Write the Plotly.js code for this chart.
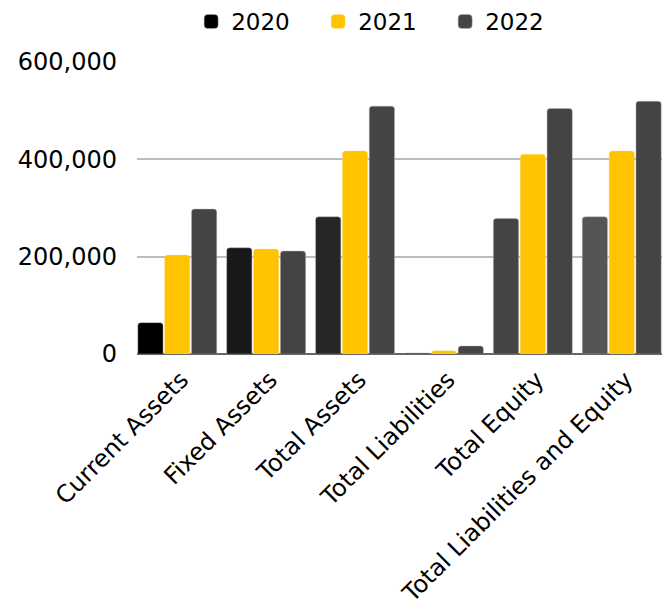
<!DOCTYPE html>
<html>
<head>
<script src="https://cdn.plot.ly/plotly-3.0.1.min.js"></script>
<style>html,body{margin:0;padding:0;background:#fff;}</style>
</head>
<body>
<div id="chart" style="width:670px;height:608px;"></div>
<script>
const categories = ["Current Assets", "Fixed Assets", "Total Assets", "Total Liabilities", "Total Equity", "Total Liabilities and Equity"];
const seriesNames = ["2020", "2021", "2022"];
const values2020 = [64300, 218200, 281900, 2000, 278600, 281900];
const values2021 = [203300, 215600, 417300, 6800, 410600, 417300];
const values2022 = [297700, 211500, 509100, 16400, 504400, 519400];
const colors2020 = ["#000000", "#181818", "#262626", "#333333", "#444444", "#555555"];
const color2021 = "#FFC300";
const color2022 = "#444444";
const yTicks = [0, 200000, 400000, 600000];
const yTickText = ["0", "200,000", "400,000", "600,000"];

const font = "'DejaVu Sans', sans-serif";
const common = {type: "bar", x: categories, hoverinfo: "skip"};
const traces = [
  Object.assign({}, common, {name: seriesNames[0], y: values2020, marker: {color: colors2020, cornerradius: 3, line: {color: "rgba(180,180,180,0.7)", width: 0.6}}}),
  Object.assign({}, common, {name: seriesNames[1], y: values2021, marker: {color: color2021, cornerradius: 3, line: {color: "rgba(255,225,140,0.7)", width: 0.6}}}),
  Object.assign({}, common, {name: seriesNames[2], y: values2022, marker: {color: color2022, cornerradius: 3, line: {color: "rgba(180,180,180,0.7)", width: 0.6}}})
];
const layout = {
  width: 670, height: 608,
  margin: {l: 137, r: 8, t: 62, b: 254},
  barmode: "group",
  bargap: 0.094,
  bargroupgap: 0.06,
  paper_bgcolor: "#fff",
  plot_bgcolor: "#fff",
  font: {family: font, color: "#000", size: 22},
  showlegend: true,
  legend: {orientation: "h", x: 0.466, xanchor: "center", y: 1, yref: "container", yanchor: "top", font: {size: 23, family: font}, traceorder: "normal", itemwidth: 30, entrywidth: 82},
  xaxis: {
    range: [-0.453, 5.453],
    tickangle: -45,
    tickfont: {size: 24, family: font, color: "#000"},
    ticklabelstandoff: 6,
    ticklabelshift: 4,
    showgrid: false,
    showline: false,
    ticks: "",
    zeroline: false
  },
  yaxis: {
    range: [0, 600000],
    tickvals: yTicks,
    ticktext: yTickText,
    tickfont: {size: 24, family: font, color: "#000"},
    showgrid: true,
    gridcolor: "#bdbdbd",
    gridwidth: 2,
    zeroline: true,
    zerolinecolor: "#666666",
    zerolinewidth: 2,
    ticks: "",
    ticklabelstandoff: 19,
    showline: false
  }
};
Plotly.newPlot("chart", traces, layout, {displayModeBar: false, staticPlot: true}).then(function () {
  document.querySelectorAll("#chart .legendpoints path").forEach(function (p) {
    const t = p.getAttribute("transform") || "";
    p.setAttribute("transform", t + " scale(1.17)");
  });
});
</script>
</body>
</html>
